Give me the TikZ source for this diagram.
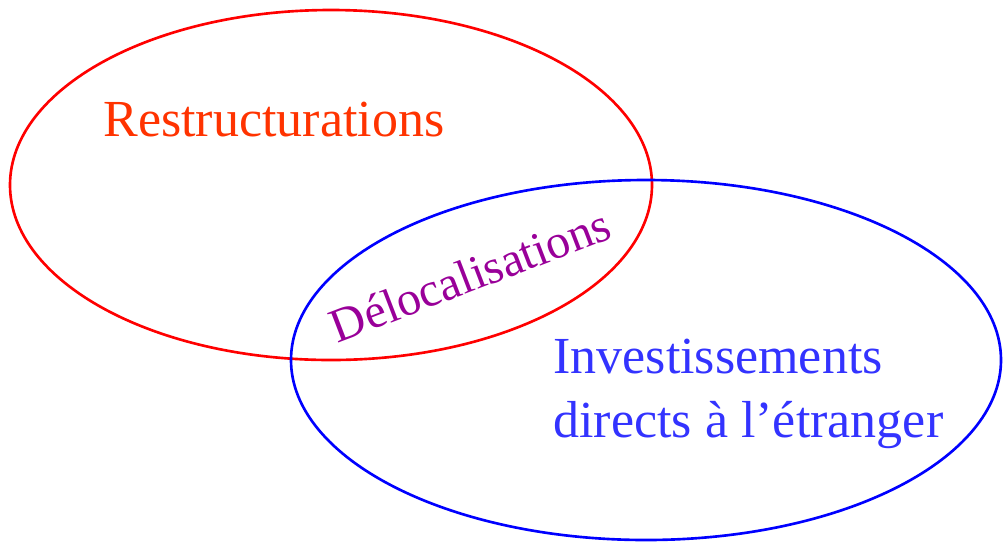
\documentclass[tikz,border=0pt]{standalone}
\usepackage{fontspec}
\setmainfont{Liberation Serif}
\definecolor{restred}{HTML}{FF0000}
\definecolor{resttext}{HTML}{FF3300}
\definecolor{ideblue}{HTML}{0000FF}
\definecolor{idetext}{HTML}{3333FF}
\definecolor{delocpurple}{HTML}{990099}
\tikzset{
    bigtext/.style={font=\fontsize{29.6}{36.4}\selectfont, inner sep=0pt},
    ring/.style={line width=1.5pt}
}
\begin{document}
\begin{tikzpicture}
    \useasboundingbox (0, 0) rectangle (20.06, -10.84);
    % the two sets
    \draw[ring, restred](6.62, -3.70) ellipse (6.42 and 3.50);
    \draw[ring, ideblue](12.92, -7.20) ellipse (7.10 and 3.60);
    % labels
    \node[bigtext, resttext, anchor=base west] (restr) at (2.06, -2.72){Restructurations};
    \node[bigtext, idetext, anchor=base west, align=left] (ide) at (11.06, -8.74){Investissements\\directs à l’étranger};
    \node[font=\fontsize{27.3}{32}\selectfont, inner sep=0pt, delocpurple, rotate=21] (deloc) at (9.40, -5.50){Délocalisations};
\end{tikzpicture}
\end{document}
